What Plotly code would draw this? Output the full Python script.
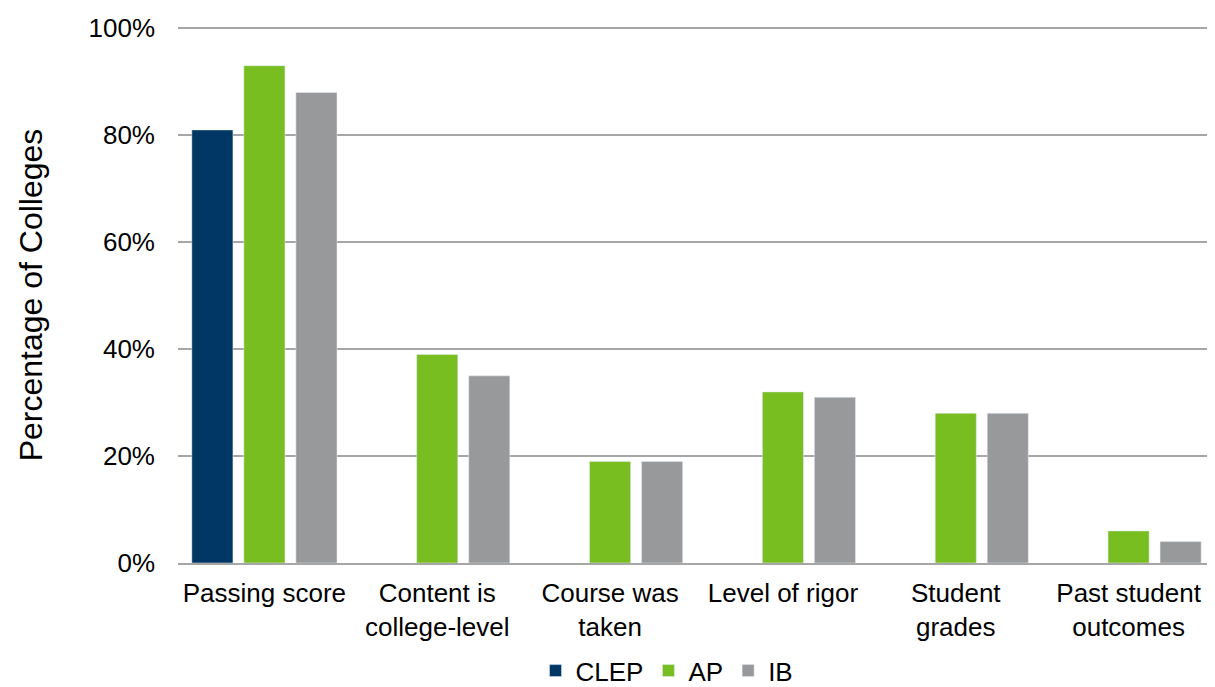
import plotly.graph_objects as go

categories = ["Passing score", "Content is<br>college-level", "Course was<br>taken",
              "Level of rigor", "Student<br>grades", "Past student<br>outcomes"]
clep = [81, None, None, None, None, None]
ap = [93, 39, 19, 32, 28, 6]
ib = [88, 35, 19, 31, 28, 4]

fig = go.Figure()
fig.add_bar(x=categories, y=clep, name="CLEP", marker_color="#003764")
fig.add_bar(x=categories, y=ap, name="AP", marker_color="#78BE20")
fig.add_bar(x=categories, y=ib, name="IB", marker_color="#98999B")

fig.update_layout(
    width=1207, height=679,
    margin=dict(l=170, r=0, t=19, b=124),
    paper_bgcolor="white", plot_bgcolor="white",
    barmode="group", bargap=0.097, bargroupgap=0.21,
    font=dict(family="Liberation Sans, Arial", size=26, color="#000000"),
    legend=dict(orientation="h", x=0.546, xanchor="center", xref="container",
                y=0.024, yanchor="middle", yref="container",
                font=dict(size=26), itemwidth=30, traceorder="normal"),
    yaxis=dict(range=[0, 100.25], dtick=20, ticksuffix="%", showgrid=True,
               gridcolor="#A6A6A6", gridwidth=1.5, zeroline=False, showline=False,
               ticks="", ticklen=0, ticklabelstandoff=22,
               title=dict(text="Percentage of Colleges", font=dict(size=32), standoff=36)),
    xaxis=dict(showline=True, linecolor="#A6A6A6", linewidth=2, ticks="",
               showgrid=False, ticklabelstandoff=6, automargin=False),
)
fig.write_html("out.html")
